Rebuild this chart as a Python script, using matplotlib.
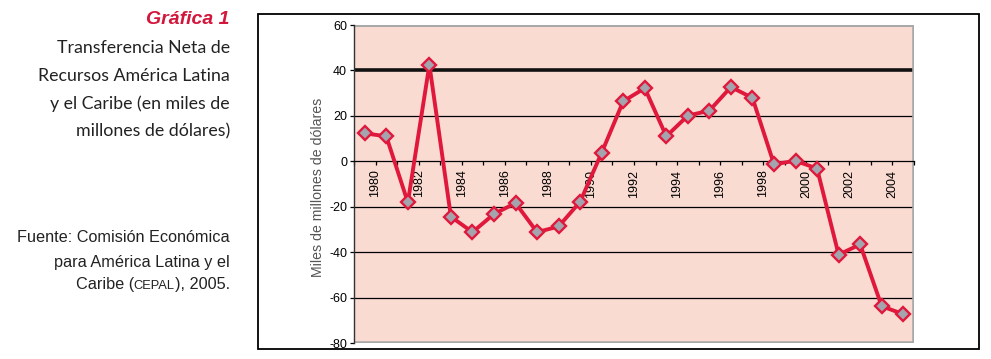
import numpy as np
import matplotlib
matplotlib.use("Agg")
import matplotlib.pyplot as plt
from matplotlib.patches import Rectangle

# data (miles de millones de dolares)
years = list(range(1980, 2006))
values = [12.3, 11.0, -18.1, 42.5, -24.4, -31.2, -23.2, -18.4, -31.2, -28.7,
          -17.8, 3.8, 26.4, 32.2, 11.0, 20.1, 22.3, 32.7, 27.9, -1.3,
          0.2, -3.2, -41.1, -36.6, -63.8, -67.3]
tick_labels = [str(y) for y in range(1980, 2005, 2)]
y_ticks = [-80, -60, -40, -20, 0, 20, 40, 60]

title_lines = ["Transferencia Neta de", "Recursos América Latina",
               "y el Caribe (en miles de", "millones de dólares)"]

RED = "#E0183C"
PINK = "#F9DBD2"
GREY = "#A9A9A9"

W, H = 991, 359
fig = plt.figure(figsize=(W / 100, H / 100), dpi=100)

def fx(px):
    return px / W

def fy(px):
    return 1 - px / H

# outer frame around the chart
fig.patches.append(Rectangle((fx(258), fy(349)), fx(979) - fx(258), fy(14) - fy(349),
                             transform=fig.transFigure, fill=False, lw=1.3, ec="black"))

ax = fig.add_axes([fx(354), fy(343), fx(914) - fx(354), fy(25) - fy(343)])
ax.set_facecolor(PINK)

x = np.arange(len(years))
ax.set_xlim(-0.5, len(years) - 0.5)
ax.set_ylim(-80, 60)

# grid lines
for v in [-60, -40, -20, 20]:
    ax.axhline(v, color="black", lw=0.9, zorder=1)
ax.axhline(40, color="#111111", lw=2.6, zorder=1)
ax.axhline(60, color=GREY, lw=2.2, zorder=1)
ax.axhline(-80, color=GREY, lw=2.6, zorder=1)
ax.axvline(len(years) - 0.5, color=GREY, lw=2.6, zorder=1)

ax.plot(x, values, color=RED, lw=2.8, marker="D", markersize=7.2,
        markerfacecolor="#A4A4AE", markeredgecolor=RED, markeredgewidth=1.7,
        zorder=3, clip_on=False)

# spines: category axis crosses at zero
for s in ["top", "right"]:
    ax.spines[s].set_visible(False)
ax.spines["bottom"].set_position(("data", 0))
ax.spines["bottom"].set_linewidth(0.9)
ax.spines["left"].set_linewidth(1.0)
ax.spines["left"].set_color("#333333")

ax.set_yticks(y_ticks)
ax.set_yticklabels([str(v) for v in y_ticks])
ax.tick_params(axis="y", direction="out", length=3, width=0.9, pad=2,
               labelsize=9, labelfontfamily="Liberation Sans")

ax.set_xticks(np.arange(len(tick_labels)) * 2 + 0.5)
ax.set_xticklabels(tick_labels, rotation=90)
ax.set_xticks(np.arange(len(years) + 1) - 0.5, minor=True)
ax.tick_params(axis="x", which="both", direction="out", length=3, width=0.9,
               pad=3, labelsize=9, labelfontfamily="Liberation Sans")

fig.text(fx(318), fy(187), "Miles de millones de dólares", rotation=90,
         ha="center", va="center", fontsize=10.2, color="#555555",
         family="Liberation Sans")

# left side caption
fig.text(fx(230), fy(20), "Gráfica 1", ha="right", va="center", fontsize=14,
         fontweight="bold", style="italic", color="#D2163C", family="Liberation Sans")
for i, line in enumerate(title_lines):
    fig.text(fx(230), fy(48 + i * 27.7), line, ha="right", va="center",
             fontsize=12.8, color="#222222", family="Lato")

fig.text(fx(230), fy(238), "Fuente: Comisión Económica", ha="right", va="center",
         fontsize=11.7, color="#222222", family="Liberation Sans")
fig.text(fx(230), fy(262), "para América Latina y el", ha="right", va="center",
         fontsize=11.7, color="#222222", family="Liberation Sans")
t3 = fig.text(fx(230), fy(292), "), 2005.", ha="right", va="bottom",
              fontsize=11.7, color="#222222", family="Liberation Sans")
t2 = ax.annotate("CEPAL", xy=(0, 0), xycoords=t3, ha="right", va="bottom",
                 fontsize=9.3, color="#222222", family="Liberation Sans",
                 annotation_clip=False)
ax.annotate("Caribe (", xy=(0, 0), xycoords=t2, ha="right", va="bottom",
            fontsize=11.7, color="#222222", family="Liberation Sans",
            annotation_clip=False)

fig.savefig("out.png", dpi=100)
